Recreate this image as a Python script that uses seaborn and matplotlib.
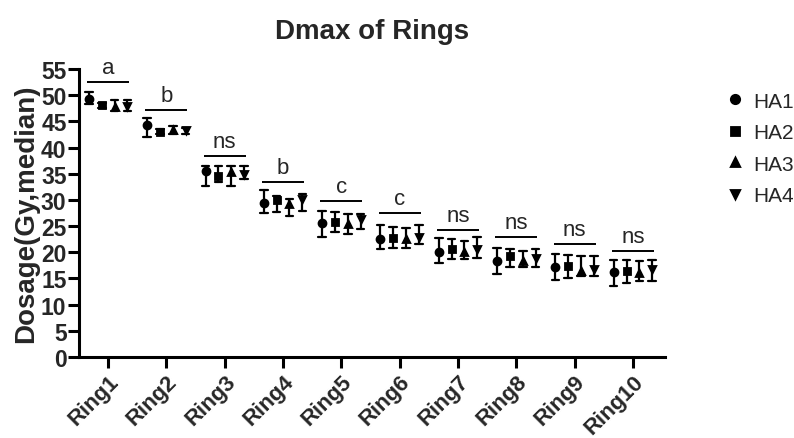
import pandas as pd
import matplotlib
matplotlib.use("Agg")
import matplotlib.pyplot as plt
import seaborn as sns

# categories and groups
rings = ["Ring1", "Ring2", "Ring3", "Ring4", "Ring5",
         "Ring6", "Ring7", "Ring8", "Ring9", "Ring10"]
groups = ["HA1", "HA2", "HA3", "HA4"]

# medians and error limits (Gy)
ha1_med = [49.2, 44.3, 35.6, 29.4, 25.6, 22.5, 20.1, 18.4, 17.1, 16.3]
ha1_lo = [48.3, 42.1, 32.7, 27.5, 23.0, 20.6, 18.0, 15.9, 14.7, 13.6]
ha1_hi = [50.7, 45.6, 36.5, 31.8, 27.9, 25.2, 22.8, 20.9, 19.7, 18.6]

ha2_med = [48.1, 43.0, 34.6, 29.9, 25.7, 22.8, 20.7, 19.2, 17.4, 16.5]
ha2_lo = [47.6, 42.5, 33.4, 27.6, 23.8, 20.8, 18.7, 17.1, 15.1, 14.1]
ha2_hi = [48.6, 43.5, 36.5, 30.8, 27.6, 24.8, 22.5, 20.6, 19.5, 18.6]

ha3_med = [47.8, 43.3, 35.3, 29.2, 25.4, 22.5, 20.1, 18.4, 16.5, 16.0]
ha3_lo = [47.0, 42.6, 32.7, 27.0, 23.4, 20.9, 18.7, 17.1, 15.4, 14.5]
ha3_hi = [49.0, 44.1, 36.5, 30.2, 27.3, 24.6, 22.2, 20.3, 19.3, 18.4]

ha4_med = [48.0, 43.3, 35.0, 30.2, 26.4, 23.0, 20.6, 19.0, 16.8, 16.8]
ha4_lo = [47.0, 42.6, 33.9, 27.9, 24.4, 21.6, 18.9, 17.1, 15.5, 14.6]
ha4_hi = [49.1, 43.8, 36.5, 31.1, 27.3, 25.2, 22.9, 20.6, 19.3, 18.5]

# significance bars
sig_y = [52.5, 47.2, 38.3, 33.4, 29.7, 27.5, 24.3, 22.9, 21.6, 20.2]
sig_labels = ["a", "b", "ns", "b", "c", "c", "ns", "ns", "ns", "ns"]

series = {
    "HA1": (ha1_lo, ha1_med, ha1_hi),
    "HA2": (ha2_lo, ha2_med, ha2_hi),
    "HA3": (ha3_lo, ha3_med, ha3_hi),
    "HA4": (ha4_lo, ha4_med, ha4_hi),
}

# long table: lo / median / hi rows -> median estimator, full range as error bar
rows = []
for g, (lo, med, hi) in series.items():
    for i, r in enumerate(rings):
        for v in (lo[i], med[i], hi[i]):
            rows.append({"Ring": r, "Group": g, "Dose": v})
df = pd.DataFrame(rows)

sns.set_style("ticks")
plt.rcParams["font.family"] = ["Liberation Sans", "DejaVu Sans"]

fig = plt.figure(figsize=(7.94, 4.39), dpi=100)
ax = fig.add_axes([79 / 794, 1 - 358 / 439, (665 - 79) / 794, (358 - 70) / 439])

sns.pointplot(data=df, x="Ring", y="Dose", hue="Group", order=rings,
              hue_order=groups, estimator="median", errorbar=("pi", 100),
              dodge=0.66, markers=["o", "s", "^", "v"], linestyles="none",
              palette={g: "black" for g in groups}, capsize=0.13,
              err_kws={"linewidth": 1.6}, markersize=5, ax=ax)

for i, (y, lab) in enumerate(zip(sig_y, sig_labels)):
    ax.hlines(y, i - 0.36, i + 0.36, color="black", linewidth=1.4)
    ax.text(i, y + 0.8, lab, ha="center", va="bottom", fontsize=16)

ax.set_xlim(-0.5, 9.55)
ax.set_ylim(0, 55)
ax.set_yticks(range(0, 56, 5))
ax.set_xlabel("")
ax.set_ylabel("Dosage(Gy,median)", fontsize=20, fontweight="bold", labelpad=1)
ax.set_title("Dmax of Rings", fontsize=20, fontweight="bold", pad=22)

for s in ["top", "right"]:
    ax.spines[s].set_visible(False)
for s in ["left", "bottom"]:
    ax.spines[s].set_linewidth(2.2)
    ax.spines[s].set_color("black")
ax.tick_params(axis="both", width=2.2, length=8, color="black")
ax.tick_params(axis="y", labelsize=16.5, pad=1)
ax.tick_params(axis="x", labelsize=16, pad=2)
for t in ax.get_yticklabels():
    t.set_fontweight("bold")
for t in ax.get_xticklabels():
    t.set_fontweight("bold")
    t.set_rotation(45)
    t.set_ha("right")
    t.set_rotation_mode("anchor")

handles, labels = ax.get_legend_handles_labels()
ax.get_legend().remove()
leg = fig.legend(handles, labels, loc="upper left", bbox_to_anchor=(0.914, 0.789),
                 borderaxespad=0, borderpad=0, frameon=False,
                 prop={"size": 15}, labelspacing=0.6,
                 handletextpad=0.4, handlelength=0.9)
for h in leg.legend_handles:
    h.set_markersize(6)

fig.savefig("out.png", dpi=100)
